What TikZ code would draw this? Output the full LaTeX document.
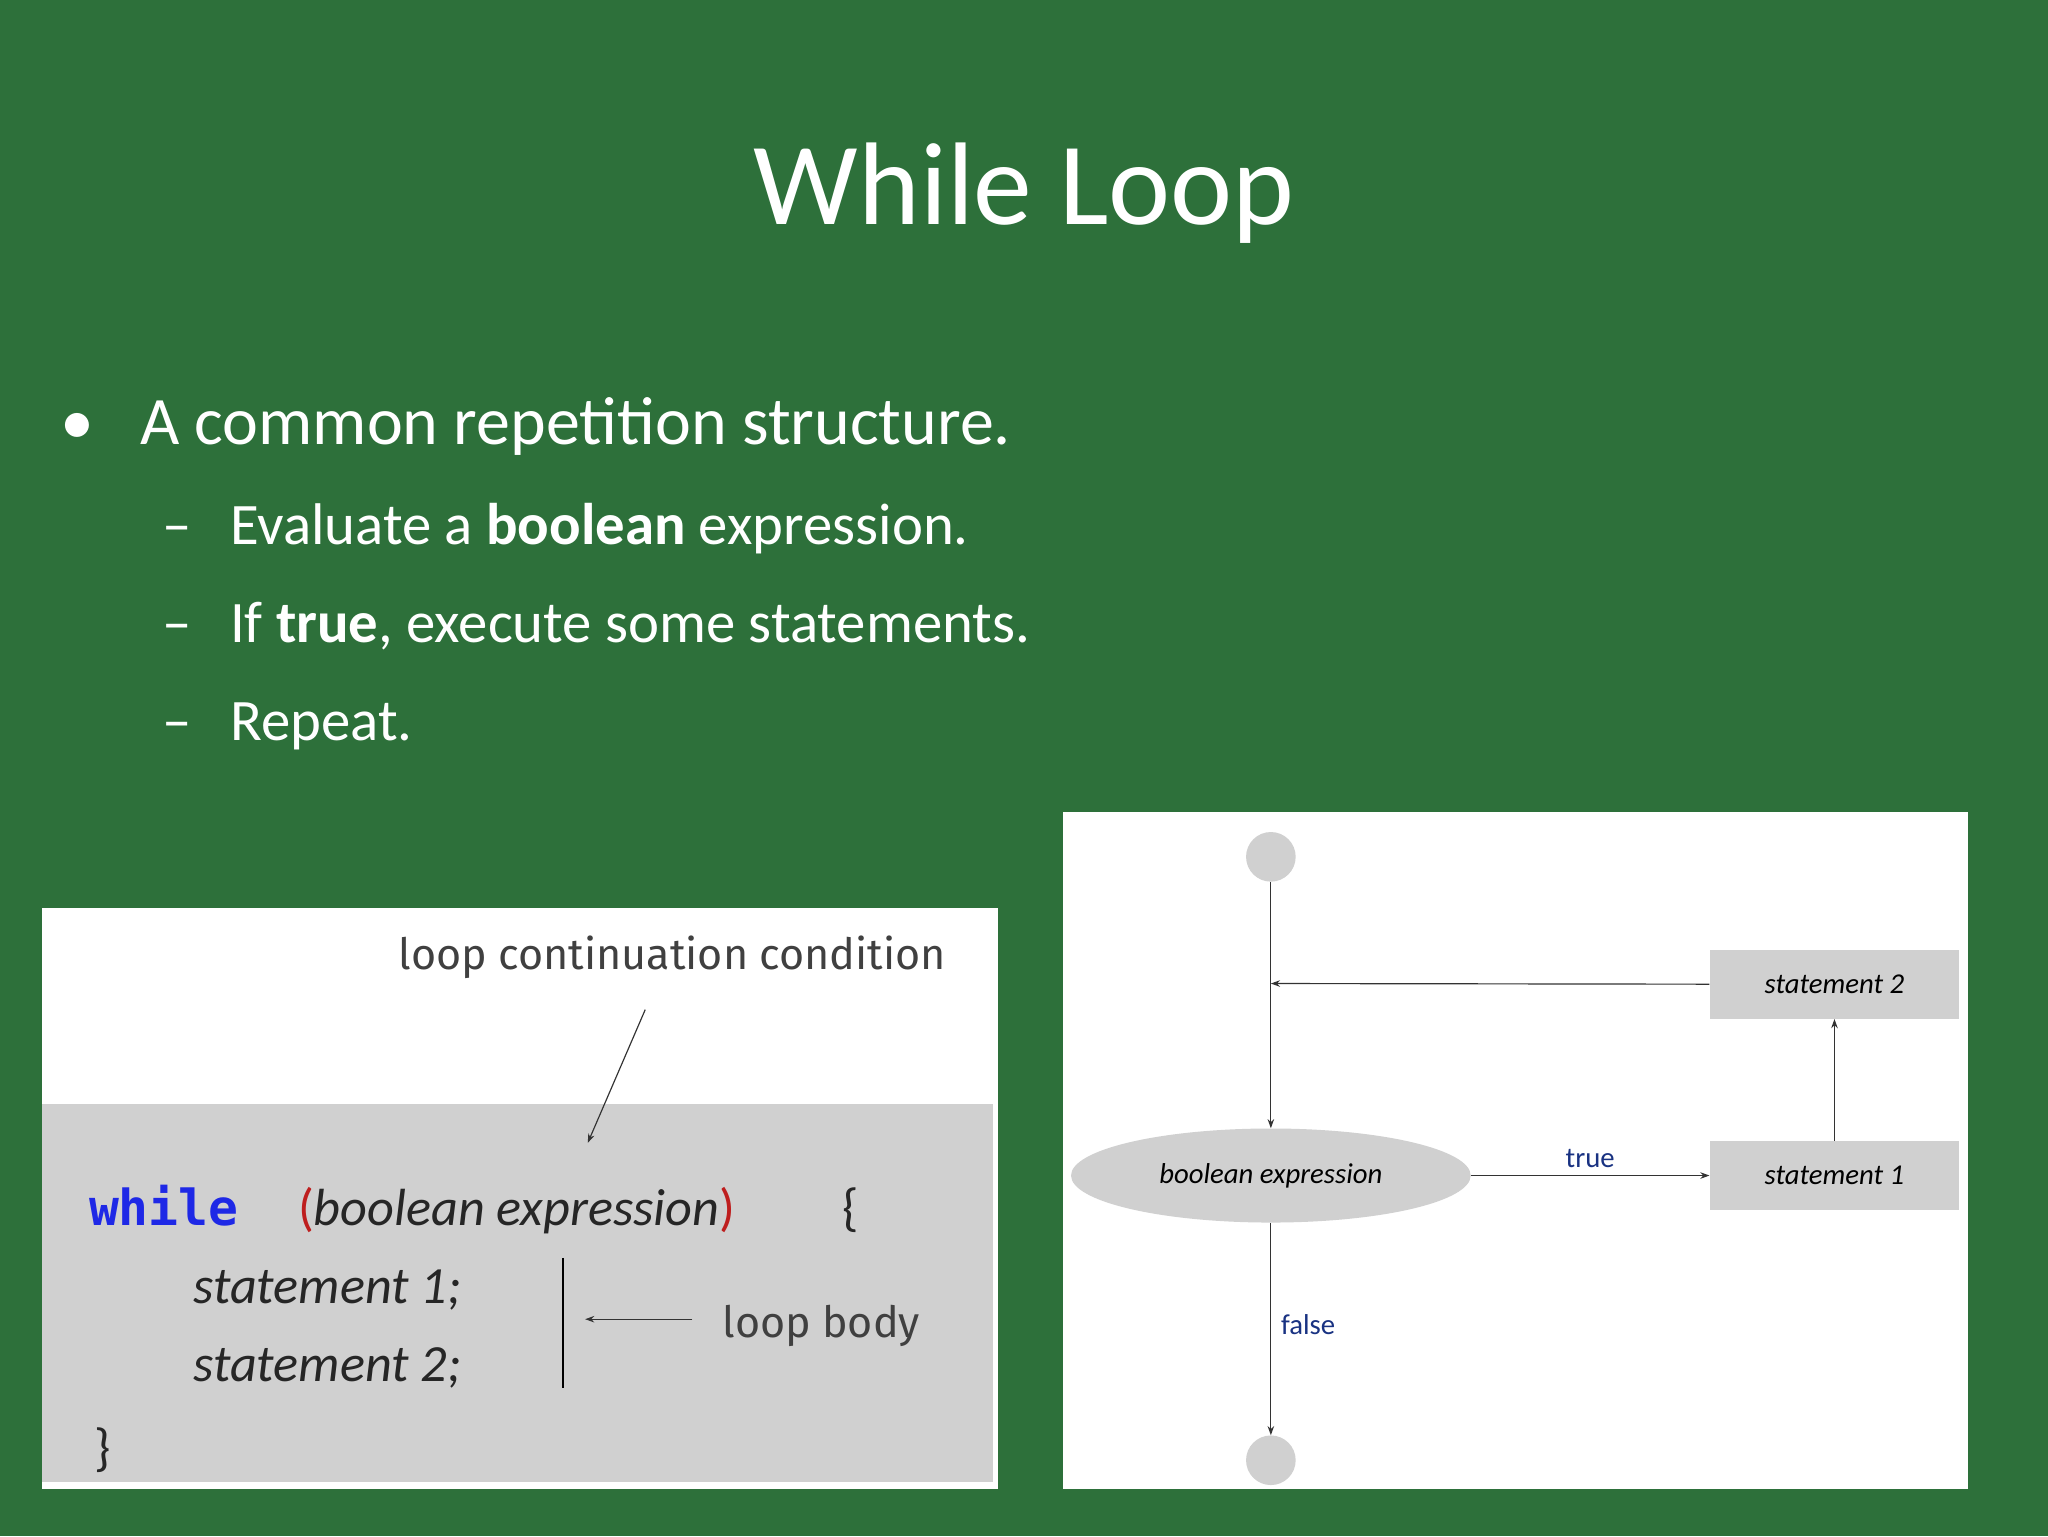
\documentclass[tikz,border=0pt]{standalone}
\usepackage{fontspec}
\setmainfont{Carlito}
\newfontfamily\codefont{DejaVu Sans Mono}
\newfontfamily\lblfont{Fira Sans}
\usetikzlibrary{shapes.geometric,arrows.meta}
\definecolor{bg}{RGB}{45,112,58}
\definecolor{panelgray}{RGB}{208,208,208}
\definecolor{kwblue}{RGB}{30,40,230}
\definecolor{parred}{RGB}{190,30,30}
\definecolor{lblblue}{RGB}{25,50,130}
\tikzset{
  bul/.style={anchor=base west,text=white,inner sep=0},
  sbox/.style={fill=panelgray,minimum width=191pt,minimum height=53pt,inner sep=0,font=\fontsize{22}{24}\selectfont\itshape},
  arr/.style={-{Stealth[length=7pt,width=5pt]},line width=0.9pt,black!80},
  code/.style={anchor=base west,inner sep=0,font=\fontsize{40}{44}\selectfont\itshape,text=black!85}
}
\begin{document}
\begin{tikzpicture}[x=1pt,y=-1pt]
\fill[bg] (0,0) rectangle (1568,1176);
\useasboundingbox (0,0) rectangle (1568,1176);
\node[text=white,font=\fontsize{90}{96}\selectfont] (title) at (784,148) {While Loop};
\node[bul,font=\fontsize{52}{56}\selectfont] (b0) at (46,340) {•};
\node[bul,font=\fontsize{52}{56}\selectfont] (b1) at (107,340) {A common repetition structure.};
\foreach \y/\t [count=\i] in {417/{Evaluate a \textbf{boolean} expression.},492/{If \textbf{true}, execute some statements.},567/{Repeat.}}{
  \node[bul,font=\fontsize{45}{50}\selectfont] (d\i) at (124,\y) {–};
  \node[bul,font=\fontsize{45}{50}\selectfont] (s\i) at (176,\y) {\t};
}
% left panel
\fill[white] (32,695) rectangle (764,1140);
\fill[panelgray] (32,845) rectangle (760,1135);
\node[anchor=base west,inner sep=0,font=\lblfont\fontsize{33}{36}\selectfont,text=black!75] (lcc) at (305,742) {loop continuation condition};
\coordinate (a1) at (494,773); \coordinate (a2) at (450,875);
\draw[arr] (a1) -- (a2);
\node[anchor=base west,inner sep=0,font=\codefont\bfseries\fontsize{38}{40}\selectfont,text=kwblue] (kw) at (68,938) {while};
\node[code] (cond) at (228,938) {\textcolor{parred}{\upshape(}boolean expression\textcolor{parred}{\upshape)}};
\node[code] (ob) at (645,938) {\upshape\{};
\node[code] (st1) at (148,998) {statement 1;};
\node[code] (st2) at (148,1058) {statement 2;};
\node[code] (cb) at (72,1122) {\upshape\}};
\coordinate (v1) at (431,963); \coordinate (v2) at (431,1063);
\draw[line width=1.4pt] (v1) -- (v2);
\node[anchor=base west,inner sep=0,font=\lblfont\fontsize{33}{36}\selectfont,text=black!75] (lb) at (553,1024) {loop body};
\coordinate (lbw) at (530,1010);
\draw[arr] (lbw) -- (448,1010);
% right panel
\fill[white] (814,622) rectangle (1507,1140);
\node[circle,fill=panelgray,minimum size=38pt,inner sep=0] (start) at (973,656) {};
\node[circle,fill=panelgray,minimum size=38pt,inner sep=0] (stop) at (973,1118) {};
\node[ellipse,fill=panelgray,minimum width=306pt,minimum height=72pt,inner sep=0,font=\fontsize{22}{24}\selectfont\itshape] (be) at (973,900) {boolean expression};
\node[sbox] (sb2) at (1404.5,753.5) {statement 2};
\node[sbox] (sb1) at (1404.5,900) {statement 1};
\coordinate (j) at (973,753);
\draw[arr] (start) -- (be);
\draw[arr] (sb2.west) -- (j);
\draw[arr] (be.east) -- node[above,text=lblblue,font=\fontsize{22}{24}\selectfont,yshift=2pt]{true} (sb1.west);
\draw[arr] (sb1.north) -- (sb2.south);
\draw[arr] (be.south) -- node[pos=0.48,right,text=lblblue,font=\fontsize{22}{24}\selectfont,xshift=4pt]{false} (stop.north);
\end{tikzpicture}
\end{document}
